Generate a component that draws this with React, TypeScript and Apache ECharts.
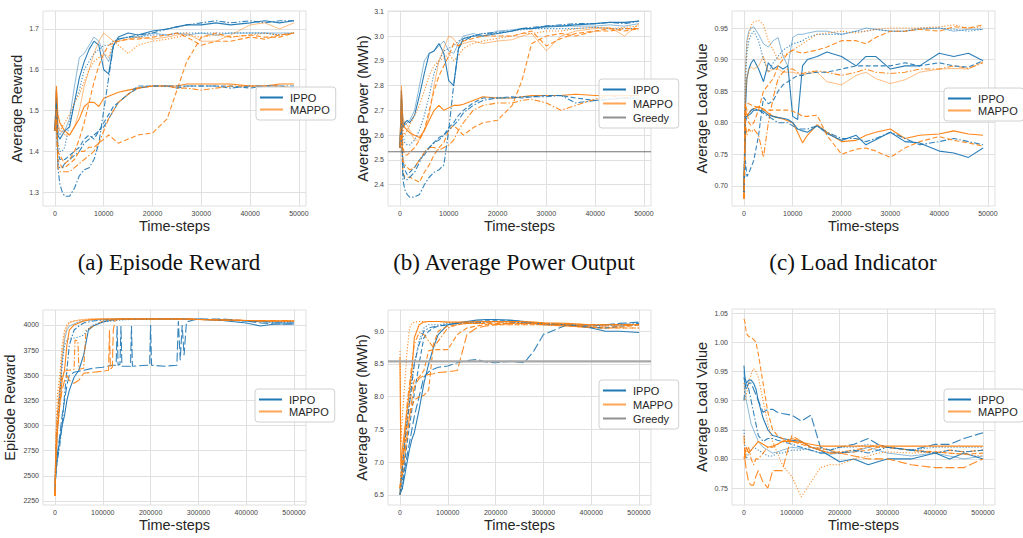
import React, { useEffect, useRef } from 'react';
import * as echarts from 'echarts';

// ---------- x positions ----------
const XT = [0, 300, 600, 1000, 1500, 2000, 3000, 4000, 5000, 6000, 7000, 8000, 9000, 10000, 11000, 12000, 13000, 15000, 17000, 20000, 23000, 25000, 27000, 30000, 33000, 36000, 40000, 43000, 46000, 49000];
const XB = [0, 2000, 5000, 10000, 15000, 20000, 25000, 30000, 40000, 50000, 60000, 70000, 80000, 100000, 120000, 140000, 160000, 180000, 200000, 230000, 260000, 280000, 300000, 350000, 400000, 430000, 460000, 500000];

// ---------- tick labels ----------
const xTicksTop = [0, 10000, 20000, 30000, 40000, 50000];
const xTicksBottom = [0, 100000, 200000, 300000, 400000, 500000];
const yTicksA = [1.3, 1.4, 1.5, 1.6, 1.7];
const yTicksB = [2.4, 2.5, 2.6, 2.7, 2.8, 2.9, 3.0, 3.1];
const yTicksC = [0.7, 0.75, 0.8, 0.85, 0.9, 0.95];
const yTicksD = [2250, 2500, 2750, 3000, 3250, 3500, 3750, 4000];
const yTicksE = [6.5, 7.0, 7.5, 8.0, 8.5, 9.0];
const yTicksF = [0.75, 0.8, 0.85, 0.9, 0.95, 1.0, 1.05];

// ---------- (a) Average Reward ----------
const aIppoSolid = [1.45, 1.55, 1.44, 1.43, 1.44, 1.45, 1.46, 1.52, 1.58, 1.62, 1.65, 1.67, 1.66, 1.6, 1.59, 1.66, 1.68, 1.69, 1.685, 1.695, 1.7, 1.705, 1.71, 1.71, 1.715, 1.71, 1.715, 1.72, 1.715, 1.72];
const aIppoDashdot = [1.45, 1.48, 1.36, 1.32, 1.3, 1.29, 1.29, 1.31, 1.34, 1.355, 1.36, 1.38, 1.42, 1.5, 1.58, 1.66, 1.675, 1.68, 1.685, 1.69, 1.7, 1.705, 1.71, 1.715, 1.72, 1.715, 1.72, 1.715, 1.72, 1.72];
const aIppoDashed = [1.45, 1.52, 1.4, 1.38, 1.38, 1.38, 1.39, 1.4, 1.41, 1.43, 1.44, 1.43, 1.45, 1.47, 1.49, 1.51, 1.52, 1.54, 1.56, 1.56, 1.56, 1.56, 1.56, 1.56, 1.56, 1.56, 1.555, 1.56, 1.56, 1.555];
const aIppoDotted = [1.45, 1.55, 1.42, 1.4, 1.4, 1.41, 1.47, 1.52, 1.55, 1.6, 1.62, 1.64, 1.65, 1.66, 1.66, 1.67, 1.675, 1.68, 1.68, 1.685, 1.685, 1.69, 1.69, 1.69, 1.69, 1.69, 1.69, 1.69, 1.685, 1.69];
const aIppoThin = [1.45, 1.53, 1.45, 1.44, 1.45, 1.45, 1.48, 1.56, 1.63, 1.64, 1.66, 1.68, 1.67, 1.64, 1.62, 1.66, 1.675, 1.68, 1.68, 1.69, 1.685, 1.69, 1.685, 1.69, 1.685, 1.69, 1.69, 1.69, 1.69, 1.69];
const aIppoDashdot2 = [1.45, 1.5, 1.37, 1.36, 1.36, 1.37, 1.38, 1.39, 1.4, 1.42, 1.43, 1.44, 1.45, 1.46, 1.48, 1.5, 1.52, 1.54, 1.555, 1.56, 1.56, 1.555, 1.56, 1.56, 1.56, 1.555, 1.56, 1.56, 1.56, 1.56];
const aMappoSolid = [1.45, 1.56, 1.49, 1.47, 1.46, 1.45, 1.44, 1.46, 1.48, 1.51, 1.52, 1.52, 1.51, 1.53, 1.535, 1.54, 1.545, 1.55, 1.555, 1.56, 1.56, 1.56, 1.565, 1.565, 1.565, 1.565, 1.56, 1.56, 1.565, 1.565];
const aMappoDashed = [1.45, 1.5, 1.38, 1.37, 1.36, 1.36, 1.37, 1.38, 1.4, 1.4, 1.41, 1.41, 1.42, 1.43, 1.44, 1.43, 1.42, 1.43, 1.44, 1.445, 1.48, 1.55, 1.62, 1.68, 1.69, 1.68, 1.685, 1.68, 1.68, 1.69];
const aMappoDashdot = [1.45, 1.48, 1.36, 1.35, 1.35, 1.35, 1.35, 1.36, 1.37, 1.38, 1.39, 1.4, 1.42, 1.45, 1.48, 1.5, 1.52, 1.54, 1.555, 1.56, 1.56, 1.555, 1.555, 1.55, 1.555, 1.56, 1.56, 1.56, 1.56, 1.555];
const aMappoDotted = [1.45, 1.52, 1.46, 1.45, 1.46, 1.47, 1.49, 1.52, 1.54, 1.57, 1.6, 1.62, 1.63, 1.64, 1.63, 1.67, 1.66, 1.64, 1.66, 1.67, 1.675, 1.68, 1.685, 1.68, 1.685, 1.68, 1.685, 1.69, 1.685, 1.69];
const aMappoThin = [1.45, 1.55, 1.47, 1.45, 1.45, 1.44, 1.44, 1.46, 1.5, 1.56, 1.6, 1.64, 1.67, 1.69, 1.68, 1.67, 1.67, 1.675, 1.68, 1.675, 1.68, 1.685, 1.69, 1.67, 1.67, 1.685, 1.71, 1.715, 1.7, 1.715];
const aMappoDashed2 = [1.45, 1.5, 1.4, 1.39, 1.38, 1.37, 1.38, 1.4, 1.43, 1.47, 1.52, 1.57, 1.61, 1.64, 1.66, 1.665, 1.67, 1.675, 1.675, 1.68, 1.685, 1.69, 1.68, 1.66, 1.67, 1.67, 1.68, 1.675, 1.685, 1.69];

// ---------- (b) Average Power Output ----------
const bIppoSolid = [2.55, 2.75, 2.63, 2.65, 2.66, 2.65, 2.68, 2.76, 2.85, 2.93, 2.94, 2.97, 2.93, 2.82, 2.8, 2.95, 2.99, 3.0, 3.0, 3.01, 3.02, 3.03, 3.03, 3.04, 3.04, 3.045, 3.05, 3.055, 3.055, 3.06];
const bIppoDashdot = [2.55, 2.62, 2.42, 2.38, 2.36, 2.35, 2.35, 2.36, 2.4, 2.43, 2.45, 2.46, 2.48, 2.62, 2.8, 2.95, 2.98, 3.0, 3.01, 3.015, 3.02, 3.03, 3.035, 3.04, 3.045, 3.05, 3.05, 3.055, 3.05, 3.06];
const bIppoDashed = [2.55, 2.7, 2.5, 2.46, 2.44, 2.45, 2.47, 2.5, 2.52, 2.55, 2.57, 2.59, 2.6, 2.63, 2.65, 2.68, 2.7, 2.73, 2.75, 2.75, 2.755, 2.75, 2.755, 2.76, 2.76, 2.75, 2.74, 2.745, 2.75, 2.75];
const bIppoDotted = [2.55, 2.7, 2.6, 2.57, 2.56, 2.56, 2.58, 2.62, 2.68, 2.76, 2.85, 2.9, 2.94, 2.95, 2.96, 2.98, 2.99, 3.0, 3.01, 3.01, 3.02, 3.025, 3.03, 3.03, 3.03, 3.03, 3.035, 3.03, 3.03, 3.03];
const bIppoThin = [2.55, 2.78, 2.66, 2.64, 2.65, 2.66, 2.7, 2.8, 2.9, 2.93, 2.94, 2.96, 2.98, 2.94, 2.93, 2.97, 3.0, 3.01, 3.0, 3.02, 3.025, 3.03, 3.03, 3.035, 3.04, 3.04, 3.04, 3.045, 3.04, 3.05];
const bIppoDashdot2 = [2.55, 2.66, 2.45, 2.42, 2.42, 2.43, 2.45, 2.49, 2.53, 2.55, 2.57, 2.58, 2.6, 2.62, 2.64, 2.66, 2.69, 2.72, 2.74, 2.75, 2.75, 2.755, 2.755, 2.755, 2.76, 2.73, 2.74, 2.745, 2.75, 2.745];
const bMappoSolid = [2.55, 2.78, 2.65, 2.63, 2.62, 2.61, 2.6, 2.59, 2.62, 2.66, 2.7, 2.72, 2.7, 2.71, 2.72, 2.72, 2.725, 2.74, 2.755, 2.75, 2.75, 2.755, 2.76, 2.76, 2.76, 2.765, 2.76, 2.76, 2.76, 2.76];
const bMappoDashed = [2.55, 2.65, 2.45, 2.43, 2.43, 2.43, 2.42, 2.41, 2.45, 2.48, 2.52, 2.55, 2.57, 2.62, 2.64, 2.62, 2.6, 2.63, 2.65, 2.66, 2.72, 2.82, 2.97, 3.0, 3.01, 3.0, 3.02, 3.02, 3.03, 3.03];
const bMappoDashdot = [2.55, 2.6, 2.5, 2.48, 2.47, 2.46, 2.47, 2.5, 2.53, 2.55, 2.55, 2.54, 2.55, 2.56, 2.58, 2.62, 2.65, 2.7, 2.72, 2.73, 2.73, 2.74, 2.745, 2.73, 2.7, 2.72, 2.745, 2.76, 2.75, 2.765];
const bMappoDotted = [2.55, 2.7, 2.62, 2.6, 2.62, 2.64, 2.68, 2.72, 2.78, 2.84, 2.88, 2.9, 2.91, 2.93, 2.9, 2.92, 2.95, 2.97, 2.98, 2.99, 3.0, 3.01, 3.01, 3.02, 3.02, 3.03, 3.035, 3.03, 3.035, 3.04];
const bMappoThin = [2.55, 2.8, 2.67, 2.65, 2.64, 2.62, 2.58, 2.58, 2.62, 2.68, 2.8, 2.9, 2.95, 3.0, 2.99, 2.96, 2.97, 2.98, 2.97, 2.98, 2.985, 3.0, 3.01, 2.94, 3.0, 3.02, 3.03, 3.035, 3.0, 3.05];
const bMappoDashed2 = [2.55, 2.7, 2.55, 2.52, 2.52, 2.53, 2.55, 2.58, 2.62, 2.7, 2.78, 2.84, 2.88, 2.92, 2.97, 2.96, 2.98, 2.99, 3.0, 3.0, 3.0, 3.01, 3.02, 2.96, 2.99, 3.01, 3.02, 3.03, 3.02, 3.03];
const bGreedy = 2.533;

// ---------- (c) Load Indicator ----------
const cIppoThin = [0.69, 0.88, 0.93, 0.945, 0.95, 0.952, 0.94, 0.925, 0.92, 0.93, 0.935, 0.905, 0.89, 0.935, 0.94, 0.94, 0.942, 0.945, 0.945, 0.94, 0.945, 0.95, 0.948, 0.945, 0.945, 0.948, 0.95, 0.945, 0.948, 0.948];
const cIppoSolid = [0.69, 0.82, 0.87, 0.885, 0.895, 0.9, 0.885, 0.865, 0.895, 0.885, 0.89, 0.885, 0.89, 0.81, 0.805, 0.89, 0.9, 0.905, 0.912, 0.905, 0.89, 0.905, 0.905, 0.885, 0.89, 0.89, 0.91, 0.905, 0.91, 0.898];
const cIppoDashed = [0.69, 0.74, 0.715, 0.72, 0.73, 0.74, 0.78, 0.84, 0.83, 0.835, 0.85, 0.86, 0.865, 0.87, 0.875, 0.875, 0.878, 0.88, 0.88, 0.885, 0.89, 0.89, 0.89, 0.89, 0.895, 0.89, 0.895, 0.89, 0.888, 0.898];
const cIppoDotted = [0.69, 0.86, 0.91, 0.93, 0.94, 0.945, 0.93, 0.9, 0.88, 0.895, 0.905, 0.915, 0.92, 0.925, 0.927, 0.93, 0.935, 0.94, 0.94, 0.94, 0.945, 0.945, 0.948, 0.945, 0.945, 0.95, 0.95, 0.948, 0.945, 0.948];
const cIppoLow = [0.69, 0.81, 0.81, 0.812, 0.815, 0.82, 0.82, 0.818, 0.812, 0.81, 0.808, 0.807, 0.805, 0.8, 0.79, 0.787, 0.785, 0.795, 0.783, 0.772, 0.78, 0.765, 0.773, 0.785, 0.77, 0.768, 0.755, 0.752, 0.745, 0.76];
const cIppoDashdot = [0.69, 0.8, 0.81, 0.815, 0.82, 0.822, 0.82, 0.815, 0.81, 0.805, 0.8, 0.8, 0.8, 0.795, 0.79, 0.79, 0.79, 0.795, 0.785, 0.775, 0.775, 0.77, 0.775, 0.785, 0.775, 0.765, 0.77, 0.775, 0.77, 0.765];
const cMappoDotted = [0.68, 0.88, 0.925, 0.94, 0.955, 0.96, 0.962, 0.955, 0.93, 0.915, 0.9, 0.905, 0.91, 0.915, 0.92, 0.925, 0.93, 0.94, 0.942, 0.945, 0.942, 0.945, 0.948, 0.95, 0.95, 0.95, 0.952, 0.955, 0.95, 0.952];
const cMappoDashed = [0.68, 0.83, 0.82, 0.8, 0.795, 0.8, 0.82, 0.85, 0.86, 0.87, 0.89, 0.9, 0.91, 0.915, 0.912, 0.91, 0.912, 0.915, 0.92, 0.93, 0.93, 0.925, 0.935, 0.945, 0.945, 0.948, 0.945, 0.952, 0.95, 0.955];
const cMappoThin = [0.68, 0.84, 0.87, 0.885, 0.888, 0.885, 0.89, 0.905, 0.88, 0.885, 0.885, 0.88, 0.88, 0.88, 0.878, 0.875, 0.878, 0.88, 0.865, 0.86, 0.875, 0.88, 0.87, 0.862, 0.868, 0.88, 0.885, 0.886, 0.885, 0.897];
const cMappoSolid = [0.68, 0.82, 0.812, 0.815, 0.82, 0.822, 0.825, 0.822, 0.815, 0.81, 0.808, 0.806, 0.803, 0.8, 0.785, 0.768, 0.78, 0.797, 0.785, 0.77, 0.772, 0.78, 0.785, 0.79, 0.775, 0.78, 0.782, 0.787, 0.782, 0.78];
const cMappoDashdot = [0.68, 0.8, 0.78, 0.79, 0.785, 0.79, 0.78, 0.745, 0.8, 0.84, 0.87, 0.88, 0.885, 0.885, 0.88, 0.878, 0.88, 0.882, 0.88, 0.875, 0.88, 0.885, 0.88, 0.878, 0.88, 0.885, 0.885, 0.89, 0.886, 0.895];
const cMappoDashedLow = [0.68, 0.83, 0.832, 0.83, 0.828, 0.826, 0.825, 0.82, 0.82, 0.82, 0.82, 0.82, 0.82, 0.818, 0.815, 0.81, 0.81, 0.812, 0.78, 0.75, 0.758, 0.76, 0.755, 0.745, 0.76, 0.77, 0.778, 0.772, 0.768, 0.763];

// ---------- (d) Episode Reward ----------
const dIppoSolid = [2400, 2550, 2700, 2850, 3000, 3100, 3250, 3350, 3480, 3550, 3700, 3950, 3990, 4030, 4050, 4060, 4060, 4060, 4060, 4060, 4060, 4055, 4060, 4045, 4020, 3990, 4010, 4010];
const dIppoDashdot = [2450, 2550, 2650, 2800, 3000, 3300, 3550, 3800, 3950, 3990, 4020, 4030, 4040, 4050, 4055, 4060, 4060, 4060, 4060, 4060, 4060, 4060, 4055, 4050, 4040, 4035, 4030, 4030];
const dIppoDotted = [2500, 2750, 3000, 3300, 3600, 3800, 3850, 3870, 3870, 3880, 3900, 3960, 4000, 4030, 4040, 4050, 4055, 4055, 4060, 4060, 4060, 4055, 4055, 4050, 4040, 4035, 4030, 4030];
const dIppoThin = [2350, 2600, 2900, 3300, 3650, 3850, 3950, 3990, 4010, 4030, 4040, 4045, 4050, 4055, 4060, 4060, 4060, 4060, 4060, 4060, 4060, 4060, 4055, 4050, 4040, 4030, 4025, 4020];
const dIppoDashedX = [0, 2000, 5000, 10000, 15000, 20000, 25000, 30000, 40000, 50000, 60000, 80000, 100000, 120000, 128000, 130000, 132000, 136000, 138000, 140000, 158000, 160000, 162000, 198000, 200000, 202000, 230000, 255000, 258000, 262000, 266000, 270000, 275000, 290000, 300000, 350000, 400000, 430000, 460000, 500000];
const dIppoDashed = [2350, 2500, 2700, 2900, 3100, 3250, 3400, 3500, 3530, 3540, 3550, 3570, 3580, 3600, 3600, 3990, 3600, 3610, 3990, 3590, 3590, 3990, 3590, 3600, 4000, 3600, 3590, 3600, 4040, 3650, 4000, 3700, 4030, 4050, 4060, 4060, 4040, 4020, 4010, 4010];
const dMappoDotted = [2300, 2900, 3300, 3500, 3800, 3950, 4000, 4030, 4040, 4045, 4050, 4055, 4060, 4060, 4060, 4060, 4060, 4060, 4060, 4060, 4060, 4055, 4055, 4050, 4045, 4040, 4040, 4040];
const dMappoSolid = [2300, 2700, 2950, 3200, 3450, 3550, 3800, 3950, 4000, 4020, 4040, 4050, 4055, 4060, 4060, 4060, 4060, 4060, 4060, 4060, 4060, 4060, 4055, 4050, 4045, 4040, 4040, 4040];
const dMappoThin = [2300, 2900, 3100, 3400, 3700, 3900, 3980, 4020, 4040, 4050, 4055, 4060, 4060, 4060, 4060, 4060, 4060, 4060, 4060, 4060, 4060, 4060, 4055, 4050, 4045, 4040, 4040, 4040];
const dMappoDashedX = [0, 2000, 5000, 10000, 15000, 20000, 25000, 30000, 40000, 50000, 60000, 80000, 100000, 112000, 114000, 116000, 120000, 122000, 124000, 126000, 140000, 180000, 230000, 300000, 350000, 400000, 460000, 500000];
const dMappoDashed = [2300, 2650, 2950, 3200, 3350, 3450, 3500, 3450, 3420, 3450, 3520, 3530, 3540, 3550, 3950, 3560, 3580, 3950, 4000, 4050, 4060, 4060, 4060, 4055, 4050, 4045, 4040, 4040];
const dMappoDashdotX = [0, 2000, 5000, 10000, 15000, 20000, 25000, 30000, 40000, 42000, 48000, 50000, 60000, 65000, 70000, 80000, 100000, 140000, 200000, 300000, 400000, 500000];
const dMappoDashdot = [2300, 2800, 3100, 3350, 3500, 3540, 3550, 3550, 3560, 3850, 3840, 3560, 3570, 3950, 3960, 3990, 4040, 4060, 4060, 4055, 4045, 4040];

// ---------- (e) Average Power (bottom) ----------
const eIppoSolid = [6.6, 6.55, 6.6, 6.8, 7.0, 7.2, 7.35, 7.45, 7.8, 8.2, 8.5, 8.75, 8.95, 9.1, 9.13, 9.15, 9.17, 9.18, 9.18, 9.17, 9.15, 9.12, 9.1, 9.1, 9.05, 9.0, 9.0, 8.98];
const eIppoDashed = [6.5, 6.55, 6.6, 6.9, 7.1, 7.3, 7.5, 7.7, 8.0, 8.3, 8.38, 8.42, 8.45, 8.47, 8.52, 8.55, 8.57, 8.53, 8.52, 8.54, 8.52, 8.7, 8.95, 9.1, 9.08, 9.1, 9.12, 9.14];
const eIppoDashdot = [6.5, 6.7, 6.9, 7.3, 7.6, 7.9, 8.2, 8.5, 8.8, 9.0, 9.05, 9.07, 9.08, 9.1, 9.12, 9.13, 9.13, 9.14, 9.15, 9.14, 9.13, 9.12, 9.12, 9.1, 9.1, 9.1, 9.1, 9.12];
const eIppoDotted = [6.6, 6.8, 7.0, 7.4, 7.7, 8.0, 8.3, 8.5, 8.85, 9.05, 9.1, 9.1, 9.1, 9.12, 9.13, 9.13, 9.14, 9.15, 9.15, 9.15, 9.14, 9.13, 9.12, 9.1, 9.08, 9.08, 9.1, 9.1];
const eIppoThin = [6.5, 6.6, 6.7, 7.0, 7.3, 7.55, 7.8, 8.05, 8.5, 8.9, 9.0, 9.05, 9.08, 9.1, 9.12, 9.14, 9.15, 9.16, 9.16, 9.16, 9.15, 9.13, 9.12, 9.1, 9.06, 9.05, 9.08, 9.1];
const eMappoSolid = [8.6, 6.9, 7.2, 7.5, 7.8, 8.1, 8.4, 8.9, 9.1, 9.14, 9.15, 9.15, 9.15, 9.14, 9.14, 9.14, 9.15, 9.15, 9.15, 9.15, 9.15, 9.14, 9.13, 9.12, 9.1, 9.1, 9.1, 9.1];
const eMappoDotted = [8.7, 7.3, 7.7, 8.2, 8.7, 9.05, 9.12, 9.14, 9.15, 9.15, 9.15, 9.15, 9.15, 9.14, 9.13, 9.12, 9.12, 9.11, 9.1, 9.1, 9.1, 9.1, 9.1, 9.08, 9.06, 9.05, 9.05, 9.05];
const eMappoDashed = [6.6, 6.7, 6.8, 7.1, 7.4, 7.7, 7.95, 8.15, 8.28, 8.32, 8.34, 8.35, 8.37, 8.38, 8.4, 8.95, 9.05, 9.08, 9.1, 9.12, 9.12, 9.12, 9.12, 9.1, 9.08, 9.08, 9.08, 9.1];
const eMappoDashdot = [6.6, 6.8, 7.0, 7.4, 7.9, 8.2, 8.5, 8.8, 8.98, 8.95, 8.85, 8.75, 8.85, 9.05, 9.1, 9.12, 9.12, 9.13, 9.13, 9.13, 9.12, 9.12, 9.12, 9.1, 9.1, 9.1, 9.1, 9.1];
const eMappoDashed2 = [6.6, 6.7, 6.9, 7.3, 7.6, 7.9, 8.1, 8.25, 8.3, 8.4, 8.7, 8.72, 8.72, 8.72, 8.95, 9.05, 9.08, 9.1, 9.1, 9.1, 9.1, 9.1, 9.1, 9.08, 9.06, 9.05, 9.06, 9.1];
const eMappoDashed3 = [6.5, 6.7, 6.9, 7.2, 7.45, 7.7, 7.85, 7.95, 8.0, 8.02, 8.1, 8.8, 9.0, 9.08, 9.1, 9.12, 9.12, 9.12, 9.12, 9.12, 9.12, 9.12, 9.1, 9.08, 9.06, 9.05, 9.05, 9.05];
const eGreedy = 8.54;

// ---------- (f) Load (bottom) ----------
const fIppoSolid = [0.96, 0.94, 0.93, 0.935, 0.935, 0.93, 0.92, 0.9, 0.87, 0.85, 0.84, 0.838, 0.835, 0.832, 0.83, 0.82, 0.815, 0.805, 0.795, 0.8, 0.79, 0.795, 0.8, 0.8, 0.81, 0.8, 0.81, 0.8];
const fIppoDashed = [0.94, 0.93, 0.92, 0.93, 0.93, 0.92, 0.91, 0.9, 0.88, 0.885, 0.885, 0.88, 0.878, 0.875, 0.865, 0.875, 0.82, 0.815, 0.82, 0.825, 0.835, 0.825, 0.82, 0.815, 0.825, 0.825, 0.835, 0.845];
const fIppoDashdot = [0.9, 0.92, 0.93, 0.92, 0.9, 0.88, 0.86, 0.84, 0.83, 0.835, 0.835, 0.832, 0.83, 0.825, 0.82, 0.815, 0.81, 0.812, 0.81, 0.815, 0.81, 0.815, 0.82, 0.815, 0.81, 0.815, 0.812, 0.815];
const fIppoDotted = [0.85, 0.82, 0.8, 0.81, 0.815, 0.82, 0.818, 0.815, 0.81, 0.805, 0.805, 0.81, 0.81, 0.815, 0.815, 0.82, 0.818, 0.815, 0.82, 0.82, 0.825, 0.82, 0.82, 0.815, 0.82, 0.82, 0.82, 0.82];
const fIppoThin = [0.95, 0.92, 0.9, 0.88, 0.86, 0.85, 0.84, 0.83, 0.82, 0.815, 0.81, 0.812, 0.815, 0.82, 0.818, 0.815, 0.81, 0.808, 0.81, 0.812, 0.82, 0.815, 0.81, 0.805, 0.81, 0.805, 0.8, 0.805];
const fMappoDashed = [1.04, 1.035, 1.015, 1.01, 1.008, 1.005, 1.0, 0.98, 0.93, 0.88, 0.85, 0.84, 0.835, 0.83, 0.825, 0.82, 0.818, 0.815, 0.81, 0.812, 0.815, 0.82, 0.82, 0.815, 0.812, 0.81, 0.808, 0.81];
const fMappoDotted = [0.93, 0.9, 0.91, 0.93, 0.945, 0.955, 0.95, 0.94, 0.9, 0.86, 0.83, 0.81, 0.79, 0.77, 0.735, 0.76, 0.785, 0.79, 0.79, 0.8, 0.805, 0.81, 0.812, 0.81, 0.812, 0.81, 0.808, 0.805];
const fMappoLongdash = [0.84, 0.8, 0.78, 0.76, 0.755, 0.755, 0.77, 0.78, 0.76, 0.75, 0.78, 0.78, 0.78, 0.84, 0.83, 0.82, 0.815, 0.81, 0.81, 0.805, 0.8, 0.8, 0.8, 0.79, 0.785, 0.785, 0.785, 0.8];
const fMappoSolid = [0.8, 0.81, 0.82, 0.81, 0.815, 0.82, 0.825, 0.83, 0.825, 0.82, 0.822, 0.825, 0.83, 0.83, 0.828, 0.825, 0.822, 0.822, 0.822, 0.822, 0.822, 0.822, 0.822, 0.822, 0.822, 0.822, 0.822, 0.822];
const fMappoDashdot = [0.8, 0.8, 0.81, 0.82, 0.8, 0.79, 0.8, 0.8, 0.81, 0.82, 0.82, 0.825, 0.83, 0.835, 0.83, 0.82, 0.815, 0.81, 0.812, 0.815, 0.82, 0.825, 0.82, 0.815, 0.81, 0.815, 0.812, 0.815];

// ---------- styling ----------
const BLUE = '#1f77b4';
const ORANGE = '#ff7f0e';
const FONT = '"Liberation Sans", Arial, sans-serif';
const GRIDC = '#e0e0e0';

const STYLES: Record<string, any> = {
  solid: { type: 'solid', width: 1.1, opacity: 0.95 },
  thin: { type: 'solid', width: 0.8, opacity: 0.65 },
  dashed: { type: [5, 2.5], width: 1.1, opacity: 0.9 },
  longdash: { type: [9, 3], width: 1.1, opacity: 0.9 },
  dashdot: { type: [6, 2, 1.5, 2], width: 1.1, opacity: 0.9 },
  dotted: { type: [1.2, 1.8], width: 1.1, opacity: 0.85 },
};

type Line = { agent: 'IPPO' | 'MAPPO'; style: string; x: number[]; y: number[] };

const panels: any[] = [
  {
    grid: { left: 43, top: 11, width: 263, height: 195 }, xMin: -2450, xMax: 51450, yMin: 1.266, yMax: 1.744,
    xTicks: xTicksTop, yTicks: yTicksA, yDec: 1, yName: 'Average Reward', yGap: 19, legend: { left: 256, top: 87 }, greedy: null,
    lines: [
      { agent: 'IPPO', style: 'solid', x: XT, y: aIppoSolid },
      { agent: 'IPPO', style: 'dashdot', x: XT, y: aIppoDashdot },
      { agent: 'IPPO', style: 'dashed', x: XT, y: aIppoDashed },
      { agent: 'IPPO', style: 'dotted', x: XT, y: aIppoDotted },
      { agent: 'IPPO', style: 'thin', x: XT, y: aIppoThin },
      { agent: 'IPPO', style: 'dashdot', x: XT, y: aIppoDashdot2 },
      { agent: 'MAPPO', style: 'solid', x: XT, y: aMappoSolid },
      { agent: 'MAPPO', style: 'dashed', x: XT, y: aMappoDashed },
      { agent: 'MAPPO', style: 'dashdot', x: XT, y: aMappoDashdot },
      { agent: 'MAPPO', style: 'dotted', x: XT, y: aMappoDotted },
      { agent: 'MAPPO', style: 'thin', x: XT, y: aMappoThin },
      { agent: 'MAPPO', style: 'dashed', x: XT, y: aMappoDashed2 },
    ] as Line[],
  },
  {
    grid: { left: 388, top: 11, width: 263, height: 195 }, xMin: -2450, xMax: 51450, yMin: 2.314, yMax: 3.101,
    xTicks: xTicksTop, yTicks: yTicksB, yDec: 1, yName: 'Average Power (MWh)', yGap: 18, legend: { left: 599, top: 79 }, greedy: bGreedy,
    lines: [
      { agent: 'IPPO', style: 'solid', x: XT, y: bIppoSolid },
      { agent: 'IPPO', style: 'dashdot', x: XT, y: bIppoDashdot },
      { agent: 'IPPO', style: 'dashed', x: XT, y: bIppoDashed },
      { agent: 'IPPO', style: 'dotted', x: XT, y: bIppoDotted },
      { agent: 'IPPO', style: 'thin', x: XT, y: bIppoThin },
      { agent: 'IPPO', style: 'dashdot', x: XT, y: bIppoDashdot2 },
      { agent: 'MAPPO', style: 'solid', x: XT, y: bMappoSolid },
      { agent: 'MAPPO', style: 'dashed', x: XT, y: bMappoDashed },
      { agent: 'MAPPO', style: 'dashdot', x: XT, y: bMappoDashdot },
      { agent: 'MAPPO', style: 'dotted', x: XT, y: bMappoDotted },
      { agent: 'MAPPO', style: 'thin', x: XT, y: bMappoThin },
      { agent: 'MAPPO', style: 'dashed', x: XT, y: bMappoDashed2 },
    ] as Line[],
  },
  {
    grid: { left: 732, top: 11, width: 263, height: 195 }, xMin: -2450, xMax: 51450, yMin: 0.668, yMax: 0.977,
    xTicks: xTicksTop, yTicks: yTicksC, yDec: 2, yName: 'Average Load Value', yGap: 23, legend: { left: 944, top: 88 }, greedy: null,
    lines: [
      { agent: 'IPPO', style: 'solid', x: XT, y: cIppoSolid },
      { agent: 'IPPO', style: 'thin', x: XT, y: cIppoThin },
      { agent: 'IPPO', style: 'dashed', x: XT, y: cIppoDashed },
      { agent: 'IPPO', style: 'dotted', x: XT, y: cIppoDotted },
      { agent: 'IPPO', style: 'solid', x: XT, y: cIppoLow },
      { agent: 'IPPO', style: 'dashdot', x: XT, y: cIppoDashdot },
      { agent: 'MAPPO', style: 'solid', x: XT, y: cMappoSolid },
      { agent: 'MAPPO', style: 'dotted', x: XT, y: cMappoDotted },
      { agent: 'MAPPO', style: 'dashed', x: XT, y: cMappoDashed },
      { agent: 'MAPPO', style: 'thin', x: XT, y: cMappoThin },
      { agent: 'MAPPO', style: 'dashdot', x: XT, y: cMappoDashdot },
      { agent: 'MAPPO', style: 'dashed', x: XT, y: cMappoDashedLow },
    ] as Line[],
  },
  {
    grid: { left: 43, top: 310, width: 263, height: 195 }, xMin: -25000, xMax: 525000, yMin: 2210, yMax: 4149,
    xTicks: xTicksBottom, yTicks: yTicksD, yDec: 0, yName: 'Episode Reward', yGap: 26, legend: { left: 255, top: 389 }, greedy: null,
    lines: [
      { agent: 'IPPO', style: 'solid', x: XB, y: dIppoSolid },
      { agent: 'IPPO', style: 'dashdot', x: XB, y: dIppoDashdot },
      { agent: 'IPPO', style: 'dotted', x: XB, y: dIppoDotted },
      { agent: 'IPPO', style: 'thin', x: XB, y: dIppoThin },
      { agent: 'IPPO', style: 'longdash', x: dIppoDashedX, y: dIppoDashed },
      { agent: 'MAPPO', style: 'solid', x: XB, y: dMappoSolid },
      { agent: 'MAPPO', style: 'dotted', x: XB, y: dMappoDotted },
      { agent: 'MAPPO', style: 'thin', x: XB, y: dMappoThin },
      { agent: 'MAPPO', style: 'longdash', x: dMappoDashedX, y: dMappoDashed },
      { agent: 'MAPPO', style: 'dashdot', x: dMappoDashdotX, y: dMappoDashdot },
    ] as Line[],
  },
  {
    grid: { left: 388, top: 310, width: 263, height: 195 }, xMin: -25000, xMax: 525000, yMin: 6.345, yMax: 9.325,
    xTicks: xTicksBottom, yTicks: yTicksE, yDec: 1, yName: 'Average Power (MWh)', yGap: 19, legend: { left: 599, top: 380 }, greedy: eGreedy,
    lines: [
      { agent: 'IPPO', style: 'solid', x: XB, y: eIppoSolid },
      { agent: 'IPPO', style: 'longdash', x: XB, y: eIppoDashed },
      { agent: 'IPPO', style: 'dashdot', x: XB, y: eIppoDashdot },
      { agent: 'IPPO', style: 'dotted', x: XB, y: eIppoDotted },
      { agent: 'IPPO', style: 'dashed', x: XB, y: eIppoThin },
      { agent: 'MAPPO', style: 'solid', x: XB, y: eMappoSolid },
      { agent: 'MAPPO', style: 'dotted', x: XB, y: eMappoDotted },
      { agent: 'MAPPO', style: 'longdash', x: XB, y: eMappoDashed },
      { agent: 'MAPPO', style: 'dashdot', x: XB, y: eMappoDashdot },
      { agent: 'MAPPO', style: 'dashed', x: XB, y: eMappoDashed2 },
      { agent: 'MAPPO', style: 'dashed', x: XB, y: eMappoDashed3 },
    ] as Line[],
  },
  {
    grid: { left: 732, top: 309, width: 263, height: 196 }, xMin: -25000, xMax: 525000, yMin: 0.721, yMax: 1.057,
    xTicks: xTicksBottom, yTicks: yTicksF, yDec: 2, yName: 'Average Load Value', yGap: 23, legend: { left: 944, top: 389 }, greedy: null,
    lines: [
      { agent: 'IPPO', style: 'solid', x: XB, y: fIppoSolid },
      { agent: 'IPPO', style: 'longdash', x: XB, y: fIppoDashed },
      { agent: 'IPPO', style: 'dashdot', x: XB, y: fIppoDashdot },
      { agent: 'IPPO', style: 'dotted', x: XB, y: fIppoDotted },
      { agent: 'IPPO', style: 'thin', x: XB, y: fIppoThin },
      { agent: 'MAPPO', style: 'solid', x: XB, y: fMappoSolid },
      { agent: 'MAPPO', style: 'dashed', x: XB, y: fMappoDashed },
      { agent: 'MAPPO', style: 'dotted', x: XB, y: fMappoDotted },
      { agent: 'MAPPO', style: 'longdash', x: XB, y: fMappoLongdash },
      { agent: 'MAPPO', style: 'dashdot', x: XB, y: fMappoDashdot },
    ] as Line[],
  },
];

const captions = [
  { text: '(a) Episode Reward', x: 169, y: 262 },
  { text: '(b) Average Power Output', x: 514, y: 262 },
  { text: '(c) Load Indicator', x: 853, y: 262 },
];

function buildOption() {
  const grid: any[] = [];
  const xAxis: any[] = [];
  const yAxis: any[] = [];
  const series: any[] = [];
  const legend: any[] = [];

  panels.forEach((p, i) => {
    grid.push({ ...p.grid, show: true, borderColor: GRIDC, borderWidth: 1, backgroundColor: '#fff', containLabel: false });
    xAxis.push({
      type: 'value', gridIndex: i, min: p.xMin, max: p.xMax,
      axisLine: { show: false },
      axisTick: { show: false, customValues: p.xTicks },
      axisLabel: { customValues: p.xTicks, fontSize: 7, color: '#444', margin: 4, fontFamily: FONT, formatter: (v: number) => String(v) },
      splitLine: { show: true, lineStyle: { color: GRIDC, width: 1 } },
      name: 'Time-steps', nameLocation: 'middle', nameGap: 12,
      nameTextStyle: { fontSize: 14.5, color: '#262626', fontFamily: FONT },
    });
    yAxis.push({
      type: 'value', gridIndex: i, min: p.yMin, max: p.yMax,
      axisLine: { show: false },
      axisTick: { show: false, customValues: p.yTicks },
      axisLabel: { customValues: p.yTicks, fontSize: 7, color: '#444', margin: 4, fontFamily: FONT, formatter: (v: number) => v.toFixed(p.yDec) },
      splitLine: { show: true, lineStyle: { color: GRIDC, width: 1 } },
      name: p.yName, nameLocation: 'middle', nameGap: p.yGap,
      nameTextStyle: { fontSize: 14.5, color: '#262626', fontFamily: FONT },
    });
    p.lines.forEach((l: Line, k: number) => {
      const st = STYLES[l.style];
      const color = l.agent === 'IPPO' ? BLUE : ORANGE;
      series.push({
        type: 'line', name: l.agent, xAxisIndex: i, yAxisIndex: i,
        data: l.x.map((xv, j) => [xv, l.y[j]]),
        symbol: 'none', showSymbol: false, silent: true, z: 2 + (k % 3) * 0.01,
        itemStyle: { color },
        lineStyle: { color, width: st.width, type: st.type, opacity: st.opacity },
      });
    });
    const legendData: any[] = [
      { name: 'IPPO', itemStyle: { color: BLUE } },
      { name: 'MAPPO', itemStyle: { color: ORANGE, opacity: 0.7 } },
    ];
    if (p.greedy != null) {
      const gColor = i === 1 ? '#707070' : '#a8a8a8';
      series.push({
        type: 'line', name: 'Greedy', xAxisIndex: i, yAxisIndex: i,
        data: [[p.xMin, p.greedy], [p.xMax, p.greedy]],
        symbol: 'none', showSymbol: false, silent: true, z: 3,
        itemStyle: { color: gColor },
        lineStyle: { color: gColor, width: i === 1 ? 1.1 : 2.2, type: 'solid' },
      });
      legendData.push({ name: 'Greedy', itemStyle: { color: '#909090' } });
    }
    legend.push({
      left: p.legend.left, top: p.legend.top, orient: 'vertical', selectedMode: false,
      backgroundColor: 'rgba(255,255,255,0.85)', borderColor: '#d0d0d0', borderWidth: 1, borderRadius: 3,
      padding: [5, 6, 5, 4], itemGap: p.greedy != null ? 3 : 1,
      itemWidth: 23, itemHeight: 2, icon: 'rect',
      textStyle: { fontSize: 11, color: '#262626', fontFamily: FONT, padding: [0, 0, 0, 2] },
      data: legendData, z: 10,
    });
  });

  return {
    animation: false,
    backgroundColor: '#ffffff',
    grid, xAxis, yAxis, series, legend,
    graphic: captions.map((c) => ({
      type: 'text', x: c.x, y: c.y, silent: true,
      style: { text: c.text, fontSize: 23, fontFamily: '"Liberation Serif", "Times New Roman", serif', fill: '#111', textAlign: 'center', textVerticalAlign: 'middle' },
    })),
  };
}

export default function App() {
  const ref = useRef<HTMLDivElement>(null);
  useEffect(() => {
    if (!ref.current) return;
    const chart = echarts.init(ref.current, undefined, { renderer: 'svg' });
    chart.setOption(buildOption() as any);
    return () => chart.dispose();
  }, []);
  return <div ref={ref} style={{ position: 'fixed', left: 0, top: 0, width: 1023, height: 538, background: '#fff' }} />;
}
